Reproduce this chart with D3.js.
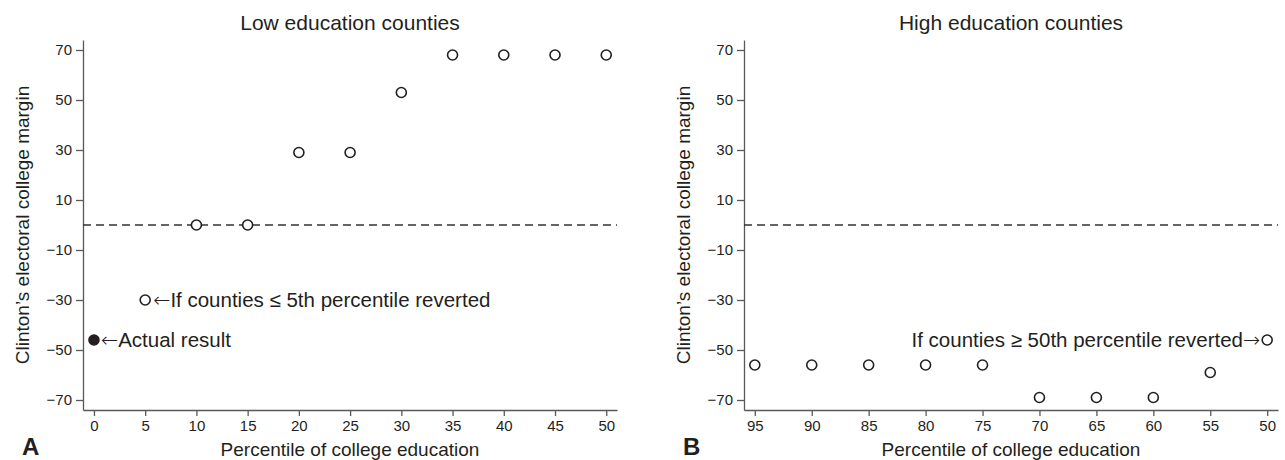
<!DOCTYPE html>
<html>
<head>
<meta charset="utf-8">
<script src="https://cdn.jsdelivr.net/npm/d3@7"></script>
<style>
  body { margin: 0; background: #fff; }
  svg { font-family: "Liberation Sans", Arial, Helvetica, sans-serif; }
  .tick text { font-size: 15px; fill: #231f20; }
  .tick line, .domain { stroke: #58595b; stroke-width: 1.3; }
  .arrow { font-family: "DejaVu Sans", sans-serif; font-weight: 200; }
</style>
</head>
<body>
<svg id="chart" width="1285" height="460"></svg>
<script>
// -- data -- //
let lowPct = [0, 5, 10, 15, 20, 25, 30, 35, 40, 45, 50];
let lowMargin = [-46, -30, 0, 0, 29, 29, 53, 68, 68, 68, 68];
let highPct = [95, 90, 85, 80, 75, 70, 65, 60, 55, 50];
let highMargin = [-56, -56, -56, -56, -56, -69, -69, -69, -59, -46];
let yTicks = [-70, -50, -30, -10, 10, 30, 50, 70];
let lowTicks = [0, 5, 10, 15, 20, 25, 30, 35, 40, 45, 50];
let highTicks = [95, 90, 85, 80, 75, 70, 65, 60, 55, 50];

let svg = d3.select('#chart');
let ink = '#231f20';

let drawPanel = (opt) => {
    let xScale = d3.scaleLinear().domain(opt.xDomain).range([opt.left, opt.right]);
    let yScale = d3.scaleLinear().domain([-74, 74]).range([410, 40]);
    let g = svg.append('g');

    // -- axes -- //
    g.append('g')
        .attr('transform', `translate(0,${yScale(-74)})`)
        .call(d3.axisBottom(xScale).tickValues(opt.xTicks).tickSize(6).tickSizeOuter(0).tickPadding(4));
    g.append('g')
        .attr('transform', `translate(${opt.left},0)`)
        .call(d3.axisLeft(yScale).tickValues(yTicks).tickSize(7).tickSizeOuter(0).tickPadding(4));

    // zero reference line
    g.append('line')
        .attr('x1', opt.left).attr('x2', opt.right)
        .attr('y1', yScale(0)).attr('y2', yScale(0))
        .style('stroke', '#333')
        .style('stroke-width', 1.3)
        .style('stroke-dasharray', '8,5');

    // -- points -- //
    let data = opt.pct.map((p, i) => ({pct: p, margin: opt.margin[i]}));
    g.selectAll('.point')
        .data(data)
        .enter().append('circle')
        .attr('class', 'point')
        .attr('cx', d => xScale(d.pct))
        .attr('cy', d => yScale(d.margin))
        .attr('r', 5)
        .style('fill', d => opt.filled && d.pct === 0 ? ink : '#fff')
        .style('stroke', ink)
        .style('stroke-width', 1.6);

    // -- texts -- //
    g.append('text')
        .attr('x', (opt.left + opt.right) / 2).attr('y', 30)
        .attr('text-anchor', 'middle')
        .style('font-size', '21px').style('fill', ink)
        .text(opt.title);
    g.append('text')
        .attr('x', (opt.left + opt.right) / 2).attr('y', 456)
        .attr('text-anchor', 'middle')
        .style('font-size', '19px').style('fill', ink)
        .text('Percentile of college education');
    g.append('text')
        .attr('transform', `translate(${opt.left - 54},${yScale(0)}) rotate(-90)`)
        .attr('text-anchor', 'middle')
        .style('font-size', '19px').style('fill', ink)
        .text('Clinton\u2019s electoral college margin');
    g.append('text')
        .attr('x', opt.left - 61).attr('y', 455)
        .style('font-size', '24px').style('font-weight', 'bold').style('fill', ink)
        .text(opt.letter);

    // annotations, arrow drawn from a font that has a full width arrow
    opt.notes.forEach(n => {
        let t = g.append('text')
            .attr('x', xScale(n.pct) + n.dx)
            .attr('y', yScale(n.margin))
            .attr('dy', '0.35em')
            .attr('text-anchor', n.anchor)
            .style('font-size', '20.5px').style('fill', ink);
        if (n.arrow === 'left') t.append('tspan').attr('class', 'arrow').text('\u2190');
        t.append('tspan').text(n.text);
        if (n.arrow === 'right') t.append('tspan').attr('class', 'arrow').text('\u2192');
    });
};

drawPanel({
    left: 83, right: 617, xDomain: [-1.07, 51.05], xTicks: lowTicks,
    pct: lowPct, margin: lowMargin, filled: true,
    title: 'Low education counties', letter: 'A',
    notes: [
        {pct: 0, margin: -46, dx: 7, anchor: 'start', arrow: 'left', text: 'Actual result'},
        {pct: 5, margin: -30, dx: 8, anchor: 'start', arrow: 'left', text: 'If counties \u2264 5th percentile reverted'}
    ]
});

drawPanel({
    left: 744, right: 1278, xDomain: [95.95, 49.05], xTicks: highTicks,
    pct: highPct, margin: highMargin, filled: false,
    title: 'High education counties', letter: 'B',
    notes: [
        {pct: 50, margin: -46, dx: -7, anchor: 'end', arrow: 'right', text: 'If counties \u2265 50th percentile reverted'}
    ]
});
</script>
</body>
</html>
